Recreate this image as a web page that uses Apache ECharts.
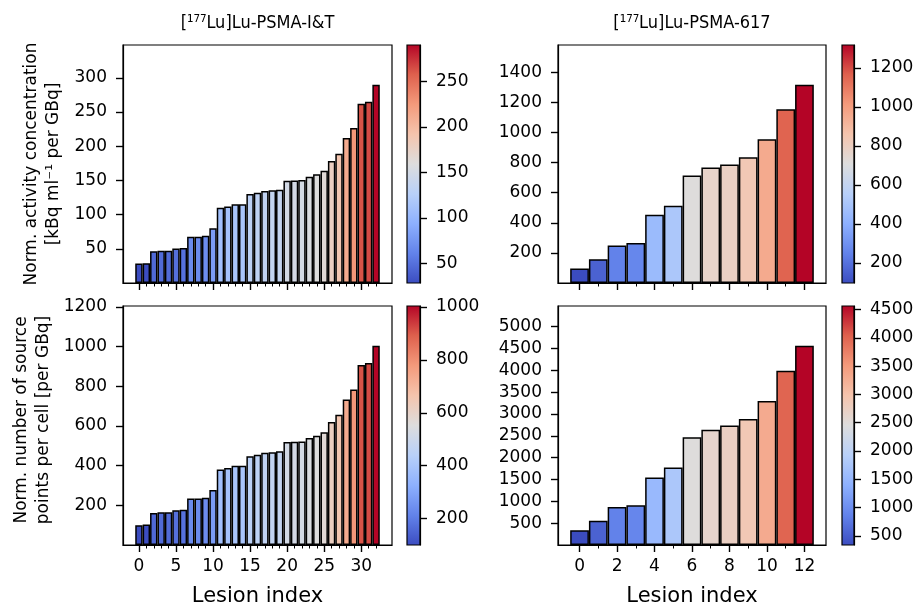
<!DOCTYPE html>
<html><head><meta charset="utf-8">
<script src="https://cdn.jsdelivr.net/npm/echarts@6/dist/echarts.min.js"></script>
<style>html,body{margin:0;padding:0;background:#fff}#c{width:919px;height:610px}</style>
</head><body><div id="c"></div>
<script>
const titles = ['[\u00B9\u2077\u2077Lu]Lu-PSMA-I&T', '[\u00B9\u2077\u2077Lu]Lu-PSMA-617'];
const yLabelTop = 'Norm. activity concentration\n[kBq ml\u207B\u00B9 per GBq]';
const yLabelBottom = 'Norm. number of source\npoints per cell [per GBq]';
const xLabel = 'Lesion index';

const activityIT = [28.5, 29, 46.5, 47, 47, 50.5, 51, 67.5, 67.5, 69, 80, 110, 112, 115, 115, 130, 132, 134.5, 135.5, 136.5, 149.5, 150, 150.5, 155.5, 159, 164, 178.5, 189, 212, 226.5, 262, 265, 290];
const activity617 = [97, 158, 249, 265, 453, 514, 714, 768, 788, 835, 956, 1154, 1318];
const sourceIT = [100, 103, 161, 165, 165, 175, 178, 235, 235, 238, 277, 381, 388, 400, 400, 448, 455, 465, 468, 473, 519, 521, 522, 539, 551, 569, 620, 657, 734, 784, 907, 917, 1004];
const source617 = [338, 554, 870, 909, 1546, 1777, 2469, 2638, 2739, 2885, 3300, 3992, 4562];

const xTicksIT = [0, 5, 10, 15, 20, 25, 30];
const xTicks617 = [0, 2, 4, 6, 8, 10, 12];
const yTicksActIT = [50, 100, 150, 200, 250, 300];
const yTicksAct617 = [200, 400, 600, 800, 1000, 1200, 1400];
const yTicksSrcIT = [200, 400, 600, 800, 1000, 1200];
const yTicksSrc617 = [500, 1000, 1500, 2000, 2500, 3000, 3500, 4000, 4500, 5000];
const cbTicksActIT = [50, 100, 150, 200, 250];
const cbTicksAct617 = [200, 400, 600, 800, 1000, 1200];
const cbTicksSrcIT = [200, 400, 600, 800, 1000];
const cbTicksSrc617 = [500, 1000, 1500, 2000, 2500, 3000, 3500, 4000, 4500];

const coolwarm = ['#3b4cc0', '#6282ea', '#8db0fe', '#b8d0f9', '#dddddd', '#f5c4ad', '#f49a7b', '#de604d', '#b40426'];

const FONT = 'DejaVu Sans';
const TXT = '#000';
const plain = v => String(v);

const panels = [
  {vals: activityIT, xTicks: xTicksIT, yTicks: yTicksActIT, cbTicks: cbTicksActIT, labels: false,
   grid: {left: 123, top: 45, width: 269, height: 238}, cb: {left: 407, top: 45, width: 13, height: 238}},
  {vals: activity617, xTicks: xTicks617, yTicks: yTicksAct617, cbTicks: cbTicksAct617, labels: false,
   grid: {left: 558, top: 45, width: 268, height: 238}, cb: {left: 842, top: 45, width: 12, height: 238}},
  {vals: sourceIT, xTicks: xTicksIT, yTicks: yTicksSrcIT, cbTicks: cbTicksSrcIT, labels: true,
   grid: {left: 123, top: 306, width: 269, height: 239}, cb: {left: 407, top: 306, width: 13, height: 239}},
  {vals: source617, xTicks: xTicks617, yTicks: yTicksSrc617, cbTicks: cbTicksSrc617, labels: true,
   grid: {left: 558, top: 306, width: 268, height: 239}, cb: {left: 842, top: 306, width: 12, height: 239}}
];

const grids = [], xAxes = [], yAxes = [], series = [], visualMaps = [];
const tickStyle = () => ({color: '#000', width: 1.4});
const lineOn = () => ({show: true, onZero: false, lineStyle: {color: '#000', width: 1.2}});
const gradient = {type: 'linear', x: 0, y: 1, x2: 0, y2: 0,
  colorStops: coolwarm.map((c, i) => ({offset: i / (coolwarm.length - 1), color: c}))};

panels.forEach((p, k) => {
  const n = p.vals.length;
  const pad = 0.05 * n;
  const xmin = -0.5 - pad, xmax = n - 0.5 + pad;
  const minor = p.vals.map((v, i) => i);
  const vmin = Math.min(...p.vals), vmax = Math.max(...p.vals);
  grids.push(Object.assign({show: true, borderColor: '#000', borderWidth: 1.2, backgroundColor: 'transparent', containLabel: false}, p.grid));
  grids.push(Object.assign({show: true, borderColor: '#000', borderWidth: 1.2, backgroundColor: gradient, containLabel: false}, p.cb));
  const g = 2 * k;
  xAxes.push({type: 'value', gridIndex: g, position: 'bottom', min: xmin, max: xmax,
    axisLine: lineOn(), splitLine: {show: false},
    axisTick: {show: true, customValues: p.xTicks, length: 7, lineStyle: tickStyle()},
    axisLabel: {show: p.labels, customValues: p.xTicks, formatter: plain, margin: 13, fontSize: 17, fontFamily: FONT, color: TXT}});
  xAxes.push({type: 'value', gridIndex: g, position: 'bottom', min: xmin, max: xmax,
    axisLine: {show: false, onZero: false}, splitLine: {show: false},
    axisTick: {show: true, customValues: minor, length: 3.5, lineStyle: {color: '#000', width: 1}},
    axisLabel: {show: false}});
  xAxes.push({type: 'value', gridIndex: g + 1, position: 'bottom', min: 0, max: 1, show: false,
    axisLine: {onZero: false}});
  yAxes.push({type: 'value', gridIndex: g, position: 'left', min: 0, max: 1.2 * vmax,
    axisLine: lineOn(), splitLine: {show: false},
    axisTick: {show: true, customValues: p.yTicks, length: 7, lineStyle: tickStyle()},
    axisLabel: {customValues: p.yTicks, formatter: plain, margin: 16, fontSize: 17, fontFamily: FONT, color: TXT}});
  yAxes.push({type: 'value', gridIndex: g + 1, position: 'right', min: vmin, max: vmax,
    axisLine: lineOn(), splitLine: {show: false},
    axisTick: {show: true, customValues: p.cbTicks, length: 7, lineStyle: tickStyle()},
    axisLabel: {customValues: p.cbTicks, formatter: plain, margin: 16, fontSize: 17, fontFamily: FONT, color: TXT}});
  series.push({type: 'bar', xAxisIndex: 3 * k, yAxisIndex: 2 * k,
    data: p.vals.map((v, i) => [i, v]),
    barWidth: p.grid.width / (xmax - xmin),
    itemStyle: {borderColor: '#000', borderWidth: 1.5},
    silent: true, animation: false});
  visualMaps.push({type: 'continuous', show: false, seriesIndex: k, dimension: 1,
    min: vmin, max: vmax, inRange: {color: coolwarm}});
});

const titleFont = '18px "DejaVu Sans Condensed", "DejaVu Sans"';
const graphics = [
  {type: 'text', x: 257.5, y: 23, style: {text: titles[0], font: titleFont, fill: TXT, align: 'center', verticalAlign: 'middle'}},
  {type: 'text', x: 692, y: 23, style: {text: titles[1], font: titleFont, fill: TXT, align: 'center', verticalAlign: 'middle'}},
  {type: 'text', x: 42.5, y: 164, rotation: Math.PI / 2, style: {text: yLabelTop, font: '17px "DejaVu Sans"', lineHeight: 21.6, fill: TXT, align: 'center', verticalAlign: 'middle'}},
  {type: 'text', x: 32.5, y: 420, rotation: Math.PI / 2, style: {text: yLabelBottom, font: '17px "DejaVu Sans"', lineHeight: 21.6, fill: TXT, align: 'center', verticalAlign: 'middle'}},
  {type: 'text', x: 257.5, y: 597, style: {text: xLabel, font: '21px "DejaVu Sans"', fill: TXT, align: 'center', verticalAlign: 'middle'}},
  {type: 'text', x: 692, y: 597, style: {text: xLabel, font: '21px "DejaVu Sans"', fill: TXT, align: 'center', verticalAlign: 'middle'}}
];

const chart = echarts.init(document.getElementById('c'), null, {renderer: 'canvas'});
chart.setOption({
  backgroundColor: '#fff',
  animation: false,
  grid: grids, xAxis: xAxes, yAxis: yAxes, series: series, visualMap: visualMaps,
  graphic: graphics
});
</script></body></html>
